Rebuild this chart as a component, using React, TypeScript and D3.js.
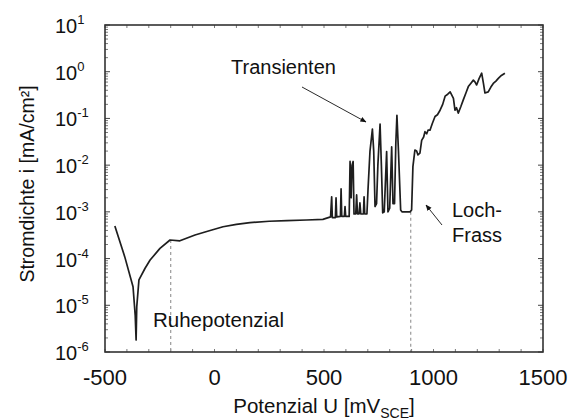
import React from "react";
import * as d3 from "d3";

// Potential U [mV_SCE]
const potential: number[] = [
  -455, -410, -372, -362, -358, -355, -345, -317, -294, -249, -203, -158, -89, -20, 39, 100, 162, 250, 331, 420, 495, 530,
  535, 538, 552, 555, 558, 575, 578, 581, 593, 596, 599,
  615, 619, 624, 628, 633, 637, 645, 649, 653, 660, 664, 668, 680, 683, 686, 696, 701,
  710, 721, 727, 733, 740, 746, 756, 762, 768, 775, 786, 792, 800, 809, 815,
  822, 828, 833, 840, 850, 856, 893, 900,
  906, 915, 923, 929, 938, 946, 955, 961, 969, 975, 984, 995, 1007, 1018, 1030, 1042, 1053, 1065, 1076, 1083, 1091,
  1098, 1105, 1113, 1125, 1136, 1148, 1159, 1170, 1182, 1190, 1197, 1208, 1220, 1228, 1235, 1250, 1262, 1273, 1285, 1296, 1310, 1326,
];
// Current density i [mA/cm^2]
const current: number[] = [
  5.0e-4, 1.1e-4, 2.5e-5, 6e-6, 1.8e-6, 9.3e-6, 3.5e-5, 6.2e-5, 9.3e-5, 1.65e-4, 2.5e-4, 2.4e-4, 3.2e-4, 4.0e-4, 4.8e-4, 5.4e-4, 5.9e-4, 6.3e-4, 6.5e-4, 6.7e-4, 6.9e-4, 7.8e-4,
  2.1e-3, 7.5e-4, 7.5e-4, 2.0e-3, 7.8e-4, 8e-4, 3.1e-3, 8e-4, 8e-4, 1.3e-3, 8e-4,
  8e-4, 1.2e-2, 2e-3, 1.0e-2, 1.2e-2, 9e-4, 9e-4, 2.3e-3, 9e-4, 9e-4, 1.55e-3, 9e-4, 9e-4, 2.1e-3, 9e-4, 9e-4, 3e-3,
  2e-2, 5.9e-2, 2e-2, 1.3e-3, 1.5e-3, 1e-2, 7.6e-2, 1e-2, 9.5e-4, 1e-3, 1.95e-2, 1.0e-3, 1.2e-3, 2.45e-2, 1.5e-3,
  1.5e-3, 3e-2, 1.17e-1, 2e-2, 1.1e-3, 1.0e-3, 1.0e-3, 1.1e-3,
  9.3e-3, 2.1e-2, 2.0e-2, 1.66e-2, 1.8e-2, 3.4e-2, 4.0e-2, 5.2e-2, 4.7e-2, 5.6e-2, 5.6e-2, 7.9e-2, 0.11, 0.12, 0.15, 0.20, 0.30, 0.33, 0.37, 0.32, 0.27,
  0.15, 0.17, 0.13, 0.18, 0.25, 0.35, 0.48, 0.56, 0.66, 0.60, 0.52, 0.71, 0.93, 0.56, 0.35, 0.37, 0.47, 0.56, 0.63, 0.72, 0.83, 0.93,
];

const xTicks: number[] = [-500, 0, 500, 1000, 1500];
const yExponents: number[] = [1, 0, -1, -2, -3, -4, -5, -6];

// Marker lines: Ruhepotenzial and Lochfrass potential
const markers: { u: number; i: number }[] = [
  { u: -200, i: 2.5e-4 },
  { u: 896, i: 1.0e-3 },
];

const W = 579;
const H = 420;
const left = 105, right = 543, top = 25, bottom = 352;
const font = "Liberation Sans, Arial, Helvetica, sans-serif";

export default function App() {
  const x = d3.scaleLinear().domain([-500, 1500]).range([left, right]);
  const y = d3.scaleLog().domain([1e-6, 1e1]).range([bottom, top]);
  const pts: [number, number][] = potential.map((u, k) => [u, current[k]]);
  const line = d3
    .line<[number, number]>()
    .x((d) => x(d[0]))
    .y((d) => y(d[1]));

  const minorX = d3.range(-500, 1501, 100);
  const minorY: number[] = [];
  for (let e = -6; e < 1; e++) for (let m = 2; m <= 9; m++) minorY.push(m * Math.pow(10, e));

  return (
    <svg width={W} height={H} style={{ display: "block", position: "absolute", left: 0, top: 0, background: "#fff" }}>
      <defs>
        <marker id="ah" viewBox="0 0 10 10" refX="9" refY="5" markerWidth="7" markerHeight="7" orient="auto">
          <path d="M0,1 L10,5 L0,9 z" fill="#111" />
        </marker>
      </defs>
      <rect x={0} y={0} width={W} height={H} fill="#fff" />
      {/* minor ticks */}
      {minorX.map((v) => (
        <g key={"mx" + v} stroke="#555" strokeWidth={0.8}>
          <line x1={x(v)} x2={x(v)} y1={bottom} y2={bottom - 3} />
          <line x1={x(v)} x2={x(v)} y1={top} y2={top + 3} />
        </g>
      ))}
      {minorY.map((v, k) => (
        <g key={"my" + k} stroke="#555" strokeWidth={0.8}>
          <line x1={left} x2={left + 3} y1={y(v)} y2={y(v)} />
          <line x1={right} x2={right - 3} y1={y(v)} y2={y(v)} />
        </g>
      ))}
      {yExponents.map((e) => (
        <g key={"My" + e} stroke="#444" strokeWidth={1}>
          <line x1={left} x2={left + 5} y1={y(Math.pow(10, e))} y2={y(Math.pow(10, e))} />
          <line x1={right} x2={right - 5} y1={y(Math.pow(10, e))} y2={y(Math.pow(10, e))} />
        </g>
      ))}
      {/* dashed marker lines */}
      {markers.map((m, k) => (
        <line key={"d" + k} x1={x(m.u)} x2={x(m.u)} y1={y(m.i)} y2={bottom} stroke="#9a9a9a" strokeWidth={1.2} strokeDasharray="3,3" />
      ))}
      {/* frame */}
      <rect x={left} y={top} width={right - left} height={bottom - top} fill="none" stroke="#333" strokeWidth={1.6} />
      {/* curve */}
      <path d={line(pts) || ""} fill="none" stroke="#1e1e1e" strokeWidth={1.7} strokeLinejoin="round" />
      {/* x tick labels */}
      {xTicks.map((v) => (
        <text key={"xt" + v} x={x(v)} y={385} textAnchor="middle" fontFamily={font} fontSize={22} fill="#111">
          {v}
        </text>
      ))}
      {/* y tick labels */}
      {yExponents.map((e) => (
        <text key={"yt" + e} x={55} y={y(Math.pow(10, e)) + 8} fontFamily={font} fontSize={20} fill="#111">
          10
          <tspan fontSize={13} dy={-9}>{String(e)}</tspan>
        </text>
      ))}
      {/* axis labels */}
      <text x={324} y={413} textAnchor="middle" fontFamily={font} fontSize={20.5} fill="#111">
        Potenzial U [mV
        <tspan fontSize={14} dy={5}>SCE</tspan>
        <tspan dy={-5}>]</tspan>
      </text>
      <text transform="translate(34,184) rotate(-90)" textAnchor="middle" fontFamily={font} fontSize={19.5} fill="#111">
        Stromdichte i [mA/cm²]
      </text>
      {/* annotations */}
      <text x={231} y={74} fontFamily={font} fontSize={20} fill="#111">Transienten</text>
      <line x1={302} y1={87} x2={366} y2={122} stroke="#111" strokeWidth={0.9} markerEnd="url(#ah)" />
      <text x={452} y={217} fontFamily={font} fontSize={20} fill="#111">Loch-</text>
      <text x={452} y={242} fontFamily={font} fontSize={20} fill="#111">Frass</text>
      <line x1={442} y1={225} x2={426} y2={205} stroke="#111" strokeWidth={0.9} markerEnd="url(#ah)" />
      <text x={153} y={327} fontFamily={font} fontSize={20.5} fill="#111">Ruhepotenzial</text>
    </svg>
  );
}
